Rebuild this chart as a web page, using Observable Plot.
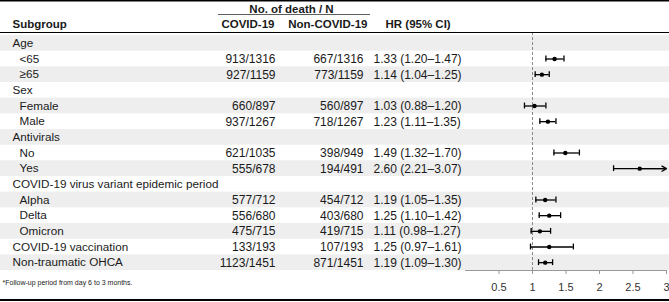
<!DOCTYPE html>
<html><head><meta charset="utf-8">
<script src="https://cdn.jsdelivr.net/npm/d3@7"></script>
<script src="https://cdn.jsdelivr.net/npm/@observablehq/plot@0.6"></script>
<style>
body{margin:0;background:#fff;}
#chart svg{display:block;}
</style></head><body><div id="chart"></div>
<script>
// ---- data ----
const subgroups = ["Age","<65","≥65","Sex","Female","Male","Antivirals","No","Yes","COVID-19 virus variant epidemic period","Alpha","Delta","Omicron","COVID-19 vaccination","Non-traumatic OHCA"];
const indent = [0,1,1,0,1,1,0,1,1,0,1,1,1,0,0];
const covidDeaths = [null,"913/1316","927/1159",null,"660/897","937/1267",null,"621/1035","555/678",null,"577/712","556/680","475/715","133/193","1123/1451"];
const nonCovidDeaths = [null,"667/1316","773/1159",null,"560/897","718/1267",null,"398/949","194/491",null,"454/712","403/680","419/715","107/193","871/1451"];
const hr    = [null,1.33,1.14,null,1.03,1.23,null,1.49,2.60,null,1.19,1.25,1.11,1.25,1.19];
const lower = [null,1.20,1.04,null,0.88,1.11,null,1.32,2.21,null,1.05,1.10,0.98,0.97,1.09];
const upper = [null,1.47,1.25,null,1.20,1.35,null,1.70,3.07,null,1.35,1.42,1.27,1.61,1.30];
const xTicks = [0.5,1,1.5,2,2.5,3];
const xDomain = [0,3];
const headerGroup = "No. of death / N";
const headerCols = ["Subgroup","COVID-19","Non-COVID-19","HR (95% CI)"];
const footnote = "*Follow-up period from day 6 to 3 months.";

// ---- table built from arrays ----
const rows = subgroups.map((s,i)=>({i, label:s, indent:indent[i], covid:covidDeaths[i], non:nonCovidDeaths[i], hr:hr[i], lo:lower[i], hi:upper[i]}));
const est = rows.filter(d=>d.hr!=null);
const f2 = d3.format(".2f");
est.forEach(d=>{d.txt = `${f2(d.hr)} (${f2(d.lo)}–${f2(d.hi)})`;});
const n = rows.length;

// ---- layout ----
const W=669,H=302,mL=465,mR=3,mT=35,mB=32;
const FONT="'Liberation Sans', Arial, Helvetica, sans-serif";
const TXT="#1a1a1a";
const fs=12, lfs=11.7, hfs=11.5;
const col = {lab0:12, lab1:19, covid:275, non:363, hr:373};
const capInset = 4.9;

const hdr = (text, x, y, anchor) => Plot.text([text],{text:d=>d,frameAnchor:"top-left",dx:x-mL,dy:y-mT,textAnchor:anchor,lineAnchor:"middle",fontSize:hfs,fontWeight:"bold",fill:TXT});

const chart = Plot.plot({
  width:W,height:H,marginLeft:mL,marginRight:mR,marginTop:mT,marginBottom:mB,
  style:{fontFamily:FONT,background:"#fff",color:TXT,overflow:"visible"},
  x:{domain:xDomain,label:null},
  y:{domain:[-0.5,n-0.5],reverse:true,axis:null},
  marks:[
    Plot.rect(rows.filter(d=>d.i%2===0),{y1:d=>d.i-0.5,y2:d=>d.i+0.5,fill:"#eeeeee",insetLeft:-mL,insetRight:-mR}),
    Plot.frame({anchor:"bottom",stroke:"#999"}),
    Plot.ruleX([1],{stroke:"#888",strokeDasharray:"3,2",strokeWidth:1,insetTop:-3}),
    // table text
    Plot.text(rows.filter(d=>d.indent===0),{y:"i",text:"label",frameAnchor:"left",textAnchor:"start",dx:col.lab0-mL,fontSize:lfs,fill:TXT}),
    Plot.text(rows.filter(d=>d.indent===1),{y:"i",text:"label",frameAnchor:"left",textAnchor:"start",dx:col.lab1-mL,fontSize:lfs,fill:TXT}),
    Plot.text(est,{y:"i",text:"covid",frameAnchor:"left",textAnchor:"end",dx:col.covid-mL,fontSize:fs,fill:TXT}),
    Plot.text(est,{y:"i",text:"non",frameAnchor:"left",textAnchor:"end",dx:col.non-mL,fontSize:fs,fill:TXT}),
    Plot.text(est,{y:"i",text:"txt",frameAnchor:"left",textAnchor:"start",dx:col.hr-mL,fontSize:fs,fill:TXT}),
    // headers
    hdr(headerGroup,291,8.5,"middle"),
    hdr(headerCols[0],12,23.5,"start"),
    hdr(headerCols[1],274,23.5,"end"),
    hdr(headerCols[2],367,23.5,"end"),
    hdr(headerCols[3],385,23.5,"start"),
    Plot.text([footnote],{text:d=>d,frameAnchor:"bottom-left",dx:2-mL,dy:12,textAnchor:"start",lineAnchor:"middle",fontSize:7,fill:TXT}),
    // axis
    Plot.axisX({ticks:xTicks,tickFormat:d3.format("~g"),tickSize:4,tickPadding:9,fontSize:11,stroke:"#999",fill:"#333",label:null}),
    // forest
    Plot.ruleY(est,{y:"i",x1:"lo",x2:d=>Math.min(d.hi,xDomain[1]),stroke:"#000",strokeWidth:1.3}),
    Plot.ruleX(est,{x:"lo",y1:d=>d.i-0.5,y2:d=>d.i+0.5,insetTop:capInset,insetBottom:capInset,stroke:"#000",strokeWidth:1.3}),
    Plot.ruleX(est.filter(d=>d.hi<=xDomain[1]),{x:"hi",y1:d=>d.i-0.5,y2:d=>d.i+0.5,insetTop:capInset,insetBottom:capInset,stroke:"#000",strokeWidth:1.3}),
    Plot.arrow(est.filter(d=>d.hi>xDomain[1]),{y1:"i",y2:"i",x1:"hr",x2:()=>xDomain[1],stroke:"#000",strokeWidth:1.3,headLength:6}),
    Plot.dot(est,{y:"i",x:"hr",r:2.2,fill:"#000",stroke:null})
  ]
});
// decorative table rules
const svg = d3.select(chart);
const g = svg.append("g").attr("stroke","#000").attr("fill","none");
g.append("line").attr("x1",0).attr("x2",W).attr("y1",0.75).attr("y2",0.75).attr("stroke-width",1.5);
g.append("line").attr("x1",218).attr("x2",370).attr("y1",14.5).attr("y2",14.5).attr("stroke-width",0.8).attr("stroke","#333");
g.append("line").attr("x1",0).attr("x2",W).attr("y1",32.5).attr("y2",32.5).attr("stroke-width",1);
g.append("line").attr("x1",0).attr("x2",W).attr("y1",300).attr("y2",300).attr("stroke-width",2);
document.getElementById("chart").append(chart);
</script></body></html>
